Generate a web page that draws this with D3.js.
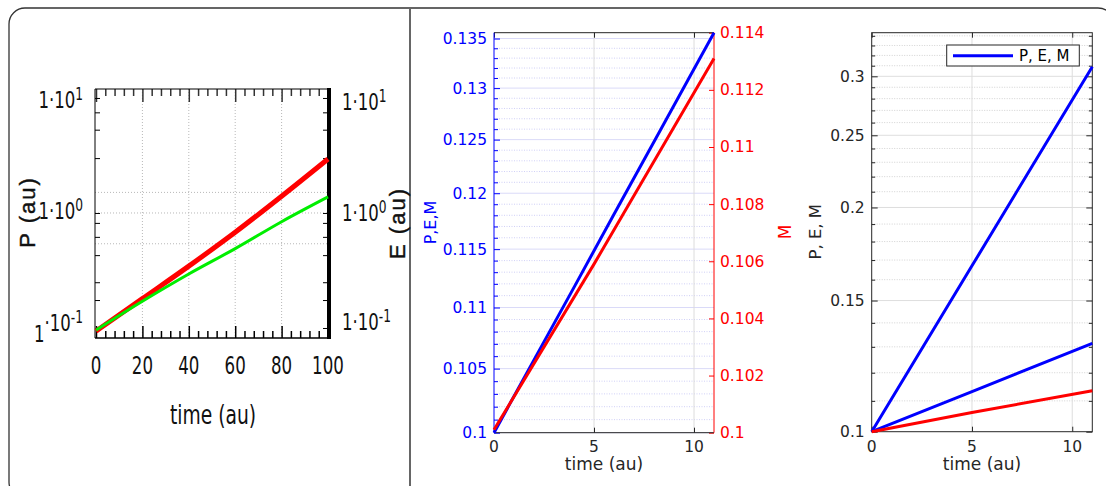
<!DOCTYPE html>
<html><head><meta charset="utf-8">
<script src="https://cdn.jsdelivr.net/npm/d3@7"></script>
<style>body{margin:0;background:#fff}svg{display:block}</style>
</head><body><svg id="c" width="1106" height="486"></svg>
<script>
// ---------- Panel A: P and E (log) vs time ----------
const timeA = [0, 20, 40, 60, 80, 100];
const pA = [0.094, 0.18, 0.345, 0.68, 1.40, 2.95];
const eA = [0.096, 0.171, 0.295, 0.49, 0.84, 1.38];
const xTicksA = [0, 20, 40, 60, 80, 100];
const xMinorA = [4, 8, 12, 16, 24, 28, 32, 36, 44, 48, 52, 56, 64, 68, 72, 76, 84, 88, 92, 96];
const yTicksA = [0.1, 1, 10];
const yMinorA = [0.175, 0.25, 0.43, 0.62, 0.82, 3, 5.3, 7.5];
const yGridA = [0.54, 1, 1.51];
const xGridA = [20, 40, 60, 80];

// ---------- Panel B: P,E,M (log, left) and M (linear, right) ----------
const timeB = [0, 2, 4, 6, 8, 10, 11];
const pemB = [0.1, 0.1057, 0.1117, 0.1181, 0.1248, 0.1319, 0.1356];
const timeBm = [0, 5, 11];
const mB = [0.1001, 0.1059, 0.1131];
const yTicksBL = [0.1, 0.105, 0.11, 0.115, 0.12, 0.125, 0.13, 0.135];
const yMinorBL = [0.101,0.102,0.103,0.104,0.106,0.107,0.108,0.109,0.111,0.112,0.113,0.114,0.116,0.117,0.118,0.119,0.121,0.122,0.123,0.124,0.126,0.127,0.128,0.129,0.131,0.132,0.133,0.134];
const yTicksBR = [0.1, 0.102, 0.104, 0.106, 0.108, 0.11, 0.112, 0.114];
const xTicksB = [0, 5, 10];

// ---------- Panel C: P, E, M (log) ----------
const timeC = [0, 5, 11];
const pC = [0.1, 0.167, 0.309];
const eC = [0.1, 0.1132, 0.1314];
const mC = [0.1, 0.1061, 0.1135];
const yTicksC = [0.1, 0.15, 0.2, 0.25, 0.3];
const yMinorC = [0.11,0.12,0.13,0.14,0.16,0.17,0.18,0.19,0.21,0.22,0.23,0.24,0.26,0.27,0.28,0.29,0.31,0.32,0.33,0.34];
const xTicksC = [0, 5, 10];

const svg = d3.select("#c");
const MG = "#262626";
const NARROW = "'Liberation Sans Narrow', 'DejaVu Sans Condensed', 'Liberation Sans', sans-serif";
const SANS = "'DejaVu Sans', 'Liberation Sans', sans-serif";

// frame
svg.append("rect").attr("x", 9).attr("y", 8).attr("width", 1105).attr("height", 490)
  .attr("rx", 16).attr("fill", "none").attr("stroke", "#333").attr("stroke-width", 1.3);
svg.append("line").attr("x1", 410).attr("x2", 410).attr("y1", 8).attr("y2", 486)
  .attr("stroke", "#666").attr("stroke-width", 2);

function styleAxis(g, color, width) {
  g.select(".domain").remove();
  g.selectAll(".tick line").attr("stroke", color).attr("stroke-width", width || 1);
  g.selectAll(".tick text").remove();
}

// ================= Panel A =================
(function () {
  const L = 95, R = 329, T = 89, B = 338;
  const x = d3.scaleLinear().domain([0, 100]).range([96, 328]);
  const y = d3.scaleLog().domain([Math.pow(10, -1.087), Math.pow(10, 1.078)]).range([B, T]);
  const g = svg.append("g");

  g.selectAll(".vg").data(xGridA).join("line")
    .attr("x1", d => x(d)).attr("x2", d => x(d)).attr("y1", T).attr("y2", B)
    .attr("stroke", "#b8b8b8").attr("stroke-width", 1).attr("stroke-dasharray", "1,2");
  g.selectAll(".hg").data(yGridA).join("line")
    .attr("x1", L).attr("x2", R).attr("y1", d => y(d)).attr("y2", d => y(d))
    .attr("stroke", "#b8b8b8").attr("stroke-width", 1).attr("stroke-dasharray", "1,2");

  const ab = g.append("g").attr("transform", `translate(0,${B})`)
    .call(d3.axisTop(x).tickValues(xTicksA).tickSize(12)); styleAxis(ab, "#000", 1.5);
  const abm = g.append("g").attr("transform", `translate(0,${B})`)
    .call(d3.axisTop(x).tickValues(xMinorA).tickSize(7)); styleAxis(abm, "#000", 1.5);
  const at = g.append("g").attr("transform", `translate(0,${T})`)
    .call(d3.axisBottom(x).tickValues(xTicksA).tickSize(13)); styleAxis(at, "#333", 1.5);
  const atm = g.append("g").attr("transform", `translate(0,${T})`)
    .call(d3.axisBottom(x).tickValues(xMinorA).tickSize(7)); styleAxis(atm, "#333", 1.5);
  const al = g.append("g").attr("transform", `translate(${L},0)`)
    .call(d3.axisRight(y).tickValues(yTicksA.concat(yMinorA)).tickSize(5)); styleAxis(al, "#000", 1);
  const ar = g.append("g").attr("transform", `translate(${R},0)`)
    .call(d3.axisLeft(y).tickValues(yTicksA.concat(yMinorA)).tickSize(6)); styleAxis(ar, "#000", 1);

  g.append("line").attr("x1", L).attr("x2", R).attr("y1", T).attr("y2", T).attr("stroke", "#000").attr("stroke-width", 1);
  g.append("line").attr("x1", L).attr("x2", L).attr("y1", T).attr("y2", B).attr("stroke", "#000").attr("stroke-width", 1);
  g.append("line").attr("x1", L).attr("x2", R).attr("y1", B).attr("y2", B).attr("stroke", "#000").attr("stroke-width", 1.6);
  g.append("line").attr("x1", R).attr("x2", R).attr("y1", T - 1).attr("y2", B + 1).attr("stroke", "#000").attr("stroke-width", 4);

  const ln = d3.line().curve(d3.curveMonotoneX).x((d, i) => x(timeA[i])).y(d => y(d));
  g.append("path").datum(pA).attr("d", ln).attr("fill", "none").attr("stroke", "#ff0000").attr("stroke-width", 5).attr("stroke-linejoin", "round");
  g.append("path").datum(eA).attr("d", ln).attr("fill", "none").attr("stroke", "#00ee00").attr("stroke-width", 3);

  xTicksA.forEach(v => {
    g.append("g").attr("transform", `translate(${x(v)},${374}) scale(0.74,1)`)
      .append("text").attr("text-anchor", "middle").attr("font-family", NARROW)
      .attr("font-size", 25).attr("fill", "#111").text(v);
  });
  const expo = { 0.1: "-1", 1: "0", 10: "1" };
  const leftBase = { 0.1: 331, 1: 219, 10: 108 };
  const rightBase = { 0.1: 330, 1: 221, 10: 110 };
  yTicksA.forEach(v => {
    const tl = g.append("g").attr("transform", `translate(83,${leftBase[v]}) scale(0.8,1)`)
      .append("text").attr("text-anchor", "end").attr("font-family", NARROW)
      .attr("font-size", 23).attr("fill", "#111");
    if (v === 0.1) {
      tl.append("tspan").attr("dy", 11).text("1");
      tl.append("tspan").attr("dy", -11).text("·10");
    } else {
      tl.append("tspan").text("1·10");
    }
    tl.append("tspan").attr("dy", -8).attr("font-size", 17).text(expo[v]);
    const tr = g.append("g").attr("transform", `translate(342,${rightBase[v]}) scale(0.8,1)`)
      .append("text").attr("text-anchor", "start").attr("font-family", NARROW)
      .attr("font-size", 23).attr("fill", "#111");
    tr.append("tspan").text("1·10");
    tr.append("tspan").attr("dy", -8).attr("font-size", 17).text(expo[v]);
  });
  g.append("g").attr("transform", `translate(213,424) scale(0.8,1)`)
    .append("text").attr("text-anchor", "middle").attr("font-family", NARROW)
    .attr("font-size", 26).attr("fill", "#111").text("time (au)");
  g.append("text").attr("transform", "translate(35,212) rotate(-90)").attr("text-anchor", "middle")
    .attr("font-family", "'Liberation Sans', sans-serif").attr("letter-spacing", 2)
    .attr("stroke", "#111").attr("stroke-width", 0.4)
    .attr("font-size", 22).attr("fill", "#111").text("P (au)");
  g.append("text").attr("transform", "translate(405,223) rotate(-90)").attr("text-anchor", "middle")
    .attr("font-family", "'Liberation Sans', sans-serif").attr("letter-spacing", 2)
    .attr("stroke", "#111").attr("stroke-width", 0.4)
    .attr("font-size", 22).attr("fill", "#111").text("E (au)");
})();

// ================= Panel B =================
(function () {
  const L = 494, R = 714, T = 32.7, B = 432.7;
  const x = d3.scaleLinear().domain([0, 11]).range([L, R]);
  const yl = d3.scaleLog().domain([0.1, 0.1356]).range([B, T]);
  const yr = d3.scaleLinear().domain([0.1, 0.114]).range([B, T]);
  const g = svg.append("g");

  g.selectAll(".mg").data(yMinorBL).join("line")
    .attr("x1", L).attr("x2", R).attr("y1", d => yl(d)).attr("y2", d => yl(d))
    .attr("stroke", "#c4c4f4").attr("stroke-width", 0.8).attr("stroke-dasharray", "1,1.5");
  g.selectAll(".hg").data(yTicksBL).join("line")
    .attr("x1", L).attr("x2", R).attr("y1", d => yl(d)).attr("y2", d => yl(d))
    .attr("stroke", "#dadaf8").attr("stroke-width", 1);
  g.selectAll(".vg").data(xTicksB.slice(1)).join("line")
    .attr("x1", d => x(d)).attr("x2", d => x(d)).attr("y1", T).attr("y2", B)
    .attr("stroke", "#dcdcdc").attr("stroke-width", 1);

  const axb = g.append("g").attr("transform", `translate(0,${B})`).call(d3.axisTop(x).tickValues(xTicksB).tickSize(5)); styleAxis(axb, MG);
  const axt = g.append("g").attr("transform", `translate(0,${T})`).call(d3.axisBottom(x).tickValues(xTicksB).tickSize(5)); styleAxis(axt, MG);
  const axl = g.append("g").attr("transform", `translate(${L},0)`).call(d3.axisRight(yl).tickValues(yTicksBL).tickSize(6)); styleAxis(axl, "#0000ff");
  const axlm = g.append("g").attr("transform", `translate(${L},0)`).call(d3.axisRight(yl).tickValues(yMinorBL).tickSize(4)); styleAxis(axlm, "#0000ff");
  const axr = g.append("g").attr("transform", `translate(${R},0)`).call(d3.axisLeft(yr).tickValues(yTicksBR).tickSize(5)); styleAxis(axr, "#ff0000");

  g.append("line").attr("x1", L).attr("x2", R).attr("y1", T).attr("y2", T).attr("stroke", MG);
  g.append("line").attr("x1", L).attr("x2", R).attr("y1", B).attr("y2", B).attr("stroke", MG);
  g.append("line").attr("x1", L).attr("x2", L).attr("y1", T).attr("y2", B).attr("stroke", "#0000ff");
  g.append("line").attr("x1", R).attr("x2", R).attr("y1", T).attr("y2", B).attr("stroke", "#ff0000");

  g.append("path").datum(pemB).attr("d", d3.line().x((d, i) => x(timeB[i])).y(d => yl(d)))
    .attr("fill", "none").attr("stroke", "#0000ff").attr("stroke-width", 3);
  g.append("path").datum(mB).attr("d", d3.line().x((d, i) => x(timeBm[i])).y(d => yr(d)))
    .attr("fill", "none").attr("stroke", "#ff0000").attr("stroke-width", 3);

  yTicksBL.forEach(v => g.append("text").attr("x", L - 7).attr("y", yl(v) + 5.5).attr("text-anchor", "end")
    .attr("font-family", SANS).attr("font-size", 15.5).attr("fill", "#0000ff").text(String(v)));
  yTicksBR.forEach(v => g.append("text").attr("x", R + 6).attr("y", yr(v) + 5.5).attr("text-anchor", "start")
    .attr("font-family", SANS).attr("font-size", 15.5).attr("fill", "#ff0000").text(String(v)));
  xTicksB.forEach(v => g.append("text").attr("x", x(v)).attr("y", 451.5).attr("text-anchor", "middle")
    .attr("font-family", SANS).attr("font-size", 15.5).attr("fill", MG).text(v));
  g.append("text").attr("x", 604).attr("y", 470).attr("text-anchor", "middle")
    .attr("font-family", SANS).attr("font-size", 17).attr("fill", MG).text("time (au)");
  g.append("text").attr("transform", "translate(436,222.5) rotate(-90)").attr("text-anchor", "middle")
    .attr("font-family", SANS).attr("font-size", 16).attr("fill", "#0000ff").text("P,E,M");
  g.append("text").attr("transform", "translate(791,232) rotate(-90)").attr("text-anchor", "middle")
    .attr("font-family", SANS).attr("font-size", 17).attr("fill", "#ff0000").text("M");
})();

// ================= Panel C =================
(function () {
  const L = 871.7, R = 1092.3, T = 32.7, B = 431.7;
  const x = d3.scaleLinear().domain([0, 11]).range([L, R]);
  const y = d3.scaleLog().domain([0.1, 0.3433]).range([B, T]);
  const g = svg.append("g");

  g.selectAll(".mg").data(yMinorC).join("line")
    .attr("x1", L).attr("x2", R).attr("y1", d => y(d)).attr("y2", d => y(d))
    .attr("stroke", "#c8c8c8").attr("stroke-width", 0.8).attr("stroke-dasharray", "1,1.5");
  g.selectAll(".hg").data(yTicksC.slice(1)).join("line")
    .attr("x1", L).attr("x2", R).attr("y1", d => y(d)).attr("y2", d => y(d))
    .attr("stroke", "#dedede").attr("stroke-width", 1);
  g.selectAll(".vg").data(xTicksC.slice(1)).join("line")
    .attr("x1", d => x(d)).attr("x2", d => x(d)).attr("y1", T).attr("y2", B)
    .attr("stroke", "#dedede").attr("stroke-width", 1);

  const a1 = g.append("g").attr("transform", `translate(0,${B})`).call(d3.axisTop(x).tickValues(xTicksC).tickSize(5)); styleAxis(a1, MG);
  const a2 = g.append("g").attr("transform", `translate(0,${T})`).call(d3.axisBottom(x).tickValues(xTicksC).tickSize(5)); styleAxis(a2, MG);
  const a3 = g.append("g").attr("transform", `translate(${L},0)`).call(d3.axisRight(y).tickValues(yTicksC).tickSize(6)); styleAxis(a3, MG);
  const a4 = g.append("g").attr("transform", `translate(${L},0)`).call(d3.axisRight(y).tickValues(yMinorC).tickSize(3.5)); styleAxis(a4, MG);
  const a5 = g.append("g").attr("transform", `translate(${R},0)`).call(d3.axisLeft(y).tickValues(yTicksC).tickSize(6)); styleAxis(a5, MG);
  const a6 = g.append("g").attr("transform", `translate(${R},0)`).call(d3.axisLeft(y).tickValues(yMinorC).tickSize(3.5)); styleAxis(a6, MG);

  g.append("rect").attr("x", L).attr("y", T).attr("width", R - L).attr("height", B - T)
    .attr("fill", "none").attr("stroke", MG).attr("stroke-width", 1);

  const ln = d3.line().x((d, i) => x(timeC[i])).y(d => y(d));
  g.append("path").datum(pC).attr("d", ln).attr("fill", "none").attr("stroke", "#0000ff").attr("stroke-width", 3);
  g.append("path").datum(eC).attr("d", ln).attr("fill", "none").attr("stroke", "#0000ff").attr("stroke-width", 3);
  g.append("path").datum(mC).attr("d", ln).attr("fill", "none").attr("stroke", "#ff0000").attr("stroke-width", 3);

  yTicksC.forEach(v => g.append("text").attr("x", L - 7).attr("y", y(v) + 5.5).attr("text-anchor", "end")
    .attr("font-family", SANS).attr("font-size", 15.5).attr("fill", MG).text(String(v)));
  xTicksC.forEach(v => g.append("text").attr("x", x(v)).attr("y", 451.5).attr("text-anchor", "middle")
    .attr("font-family", SANS).attr("font-size", 15.5).attr("fill", MG).text(v));
  g.append("text").attr("x", 982).attr("y", 470).attr("text-anchor", "middle")
    .attr("font-family", SANS).attr("font-size", 17).attr("fill", MG).text("time (au)");
  g.append("text").attr("transform", "translate(821,231.7) rotate(-90)").attr("text-anchor", "middle")
    .attr("font-family", SANS).attr("font-size", 16.5).attr("fill", MG).text("P, E, M");

  const lg = g.append("g");
  lg.append("rect").attr("x", 946.7).attr("y", 45).attr("width", 132.6).attr("height", 21)
    .attr("fill", "#fff").attr("stroke", MG).attr("stroke-width", 1);
  lg.append("line").attr("x1", 953).attr("x2", 1013).attr("y1", 55.7).attr("y2", 55.7)
    .attr("stroke", "#0000ff").attr("stroke-width", 3);
  lg.append("text").attr("x", 1019).attr("y", 61).attr("font-family", SANS).attr("font-size", 15)
    .attr("fill", "#000").text("P, E, M");
})();
</script></body></html>
